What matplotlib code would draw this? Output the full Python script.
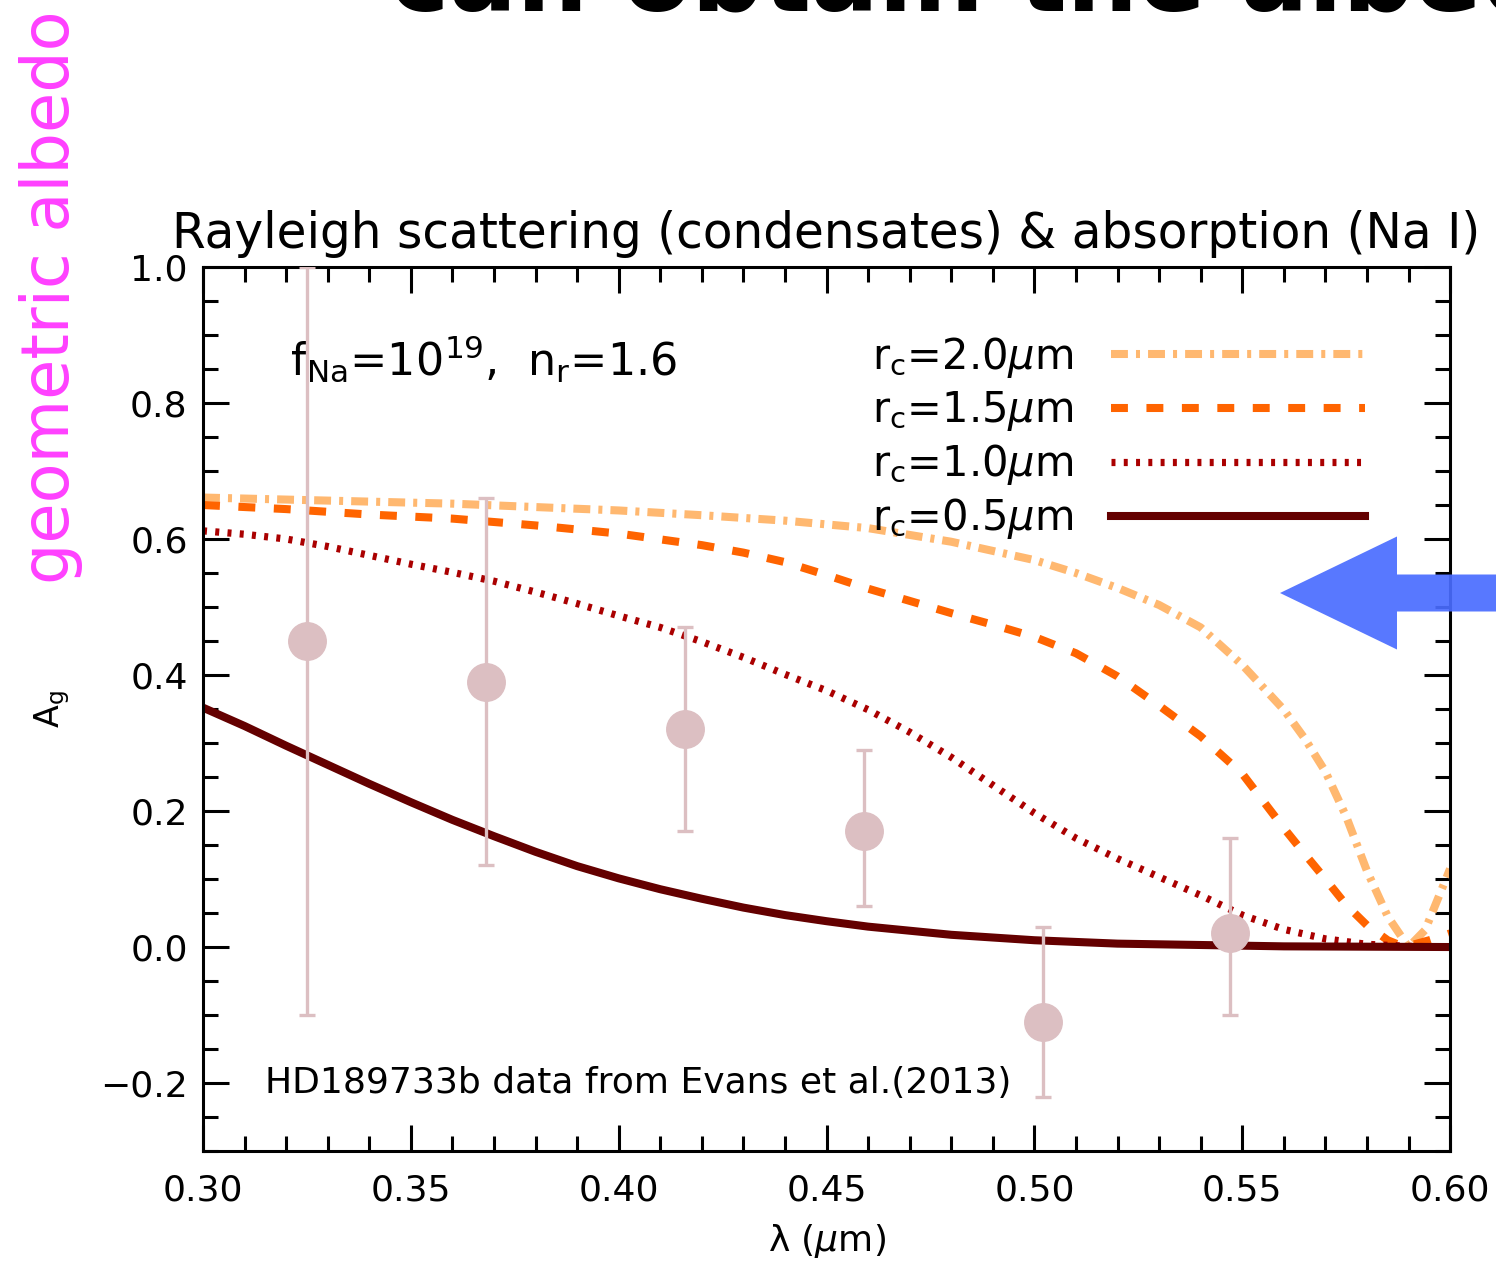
import matplotlib
matplotlib.use("Agg")
import matplotlib.pyplot as plt
from matplotlib.patches import FancyArrow
from matplotlib.ticker import MultipleLocator

# model curves, geometric albedo vs wavelength (micron)
wl_20 = [0.30, 0.32, 0.34, 0.36, 0.38, 0.40, 0.42, 0.44, 0.46, 0.48, 0.50, 0.51, 0.52,
         0.53, 0.54, 0.55, 0.56, 0.565, 0.57, 0.575, 0.58, 0.585, 0.59, 0.594, 0.597, 0.60]
ag_20 = [0.661, 0.658, 0.655, 0.652, 0.647, 0.642, 0.635, 0.627, 0.616, 0.596, 0.569, 0.550, 0.528,
         0.503, 0.470, 0.415, 0.349, 0.307, 0.258, 0.192, 0.112, 0.045, 0.0, 0.025, 0.070, 0.115]

wl_15 = [0.30, 0.32, 0.34, 0.36, 0.38, 0.40, 0.42, 0.43, 0.44, 0.45, 0.46, 0.47, 0.48, 0.49, 0.50,
         0.51, 0.52, 0.53, 0.54, 0.55, 0.555, 0.56, 0.565, 0.57, 0.575, 0.58, 0.585, 0.589, 0.595, 0.60]
ag_15 = [0.650, 0.644, 0.636, 0.630, 0.620, 0.608, 0.591, 0.580, 0.566, 0.547, 0.527, 0.509, 0.491, 0.474, 0.456,
         0.432, 0.398, 0.355, 0.310, 0.255, 0.215, 0.175, 0.137, 0.100, 0.062, 0.032, 0.010, 0.0, 0.010, 0.020]

wl_10 = [0.30, 0.31, 0.32, 0.33, 0.34, 0.35, 0.36, 0.37, 0.38, 0.39, 0.40, 0.41, 0.42, 0.43, 0.44,
         0.45, 0.46, 0.47, 0.48, 0.49, 0.50, 0.51, 0.52, 0.53, 0.54, 0.55, 0.56, 0.57, 0.58, 0.59, 0.60]
ag_10 = [0.612, 0.607, 0.600, 0.589, 0.576, 0.563, 0.551, 0.538, 0.522, 0.505, 0.487, 0.470, 0.449, 0.426, 0.401,
         0.377, 0.349, 0.316, 0.279, 0.238, 0.197, 0.160, 0.130, 0.103, 0.076, 0.047, 0.026, 0.012, 0.004, 0.001, 0.0]

wl_05 = [0.30, 0.31, 0.32, 0.33, 0.34, 0.35, 0.36, 0.37, 0.38, 0.39, 0.40, 0.41, 0.42, 0.43, 0.44,
         0.45, 0.46, 0.48, 0.50, 0.52, 0.54, 0.56, 0.58, 0.60]
ag_05 = [0.352, 0.325, 0.296, 0.268, 0.240, 0.213, 0.187, 0.163, 0.140, 0.119, 0.101, 0.085, 0.071, 0.058, 0.047,
         0.038, 0.030, 0.018, 0.010, 0.005, 0.003, 0.001, 0.0005, 0.0]

# HD189733b points (Evans et al. 2013)
obs_wl = [0.325, 0.368, 0.416, 0.459, 0.502, 0.547]
obs_ag = [0.45, 0.39, 0.32, 0.17, -0.11, 0.02]
obs_err_lo = [0.55, 0.27, 0.15, 0.11, 0.11, 0.12]
obs_err_hi = [0.55, 0.27, 0.15, 0.12, 0.14, 0.14]

xticks = [0.30, 0.35, 0.40, 0.45, 0.50, 0.55, 0.60]
yticks = [-0.2, 0.0, 0.2, 0.4, 0.6, 0.8, 1.0]

plt.rcParams['font.family'] = ['DejaVu Sans']
plt.rcParams['mathtext.fontset'] = 'dejavusans'

fig = plt.figure(figsize=(14.96, 12.66), dpi=100)
ax = fig.add_axes([0.1357, 0.0908, 0.8336, 0.6983])

pink = '#dcbfc2'
l20, = ax.plot(wl_20, ag_20, color='#ffb870', lw=5.8, label=r'r$_{\rm c}$=2.0$\mu$m')
l20.set_dashes([2.1, 1.0, 0.5, 1.0])
l15, = ax.plot(wl_15, ag_15, color='#ff6400', lw=5.8, label=r'r$_{\rm c}$=1.5$\mu$m')
l15.set_dashes([2.1, 2.3])
l10, = ax.plot(wl_10, ag_10, color='#aa0000', lw=5.2, label=r'r$_{\rm c}$=1.0$\mu$m')
l10.set_dashes([0.55, 1.15])
l05, = ax.plot(wl_05, ag_05, color='#640000', lw=5.8, label=r'r$_{\rm c}$=0.5$\mu$m')

ax.errorbar(obs_wl, obs_ag, yerr=[obs_err_lo, obs_err_hi], fmt='o', color=pink,
            ms=27, elinewidth=2.4, capsize=6, capthick=2.4, zorder=5)

ax.set_xlim(0.30, 0.60)
ax.set_ylim(-0.3, 1.0)
ax.set_xticks(xticks)
ax.set_xticklabels([f'{t:.2f}' for t in xticks])
ax.set_yticks(yticks)
ax.set_yticklabels([f'{t:.1f}'.replace('-', '\u2212') for t in yticks])
ax.xaxis.set_minor_locator(MultipleLocator(0.01))
ax.yaxis.set_minor_locator(MultipleLocator(0.05))
ax.tick_params(which='both', direction='in', top=True, right=True, width=2.2)
ax.tick_params(which='major', length=19)
ax.tick_params(which='minor', length=10.5)
ax.tick_params(axis='x', labelsize=26, pad=16)
ax.tick_params(axis='y', labelsize=26, pad=11)
for sp in ax.spines.values():
    sp.set_linewidth(2.2)

ax.set_title('Rayleigh scattering (condensates) & absorption (Na I)', fontsize=35, pad=14)
ax.set_xlabel(r'λ ($\mu$m)', fontsize=26)
ax.xaxis.set_label_coords(0.5, -0.08)
ax.set_ylabel(r'A$_{\rm g}$', fontsize=24)
ax.yaxis.set_label_coords(-0.105, 0.5)

ax.text(0.07, 0.895, r'f$_{\rm Na}$=10$^{19}$,  n$_{\rm r}$=1.6', transform=ax.transAxes,
        fontsize=32, va='center', ha='left')
ax.text(0.05, 0.077, 'HD189733b data from Evans et al.(2013)', transform=ax.transAxes,
        fontsize=26, va='center', ha='left')

ax.legend(handles=[l20, l15, l10, l05], loc='upper right', frameon=False, fontsize=30,
          markerfirst=False, handlelength=6.1, handletextpad=0.9, labelspacing=0.22,
          borderaxespad=0.0, bbox_to_anchor=(0.945, 0.942))

# side label and headline
fig.text(0.034, 0.765, 'geometric albedo', rotation=90, color='#ff40ff', fontsize=47,
         ha='center', va='center')
fig.text(0.261, 0.9915, 'can obtain the albedo', fontsize=72, fontweight='bold',
         ha='left', va='baseline')

arrow = FancyArrow(15.2, 6.73, -2.40, 0, width=0.37, head_width=1.13, head_length=1.17,
                   length_includes_head=True, transform=fig.dpi_scale_trans,
                   color='#4a6cff', alpha=0.92, lw=0, zorder=10)
fig.add_artist(arrow)

fig.savefig('out.png', dpi=100)
